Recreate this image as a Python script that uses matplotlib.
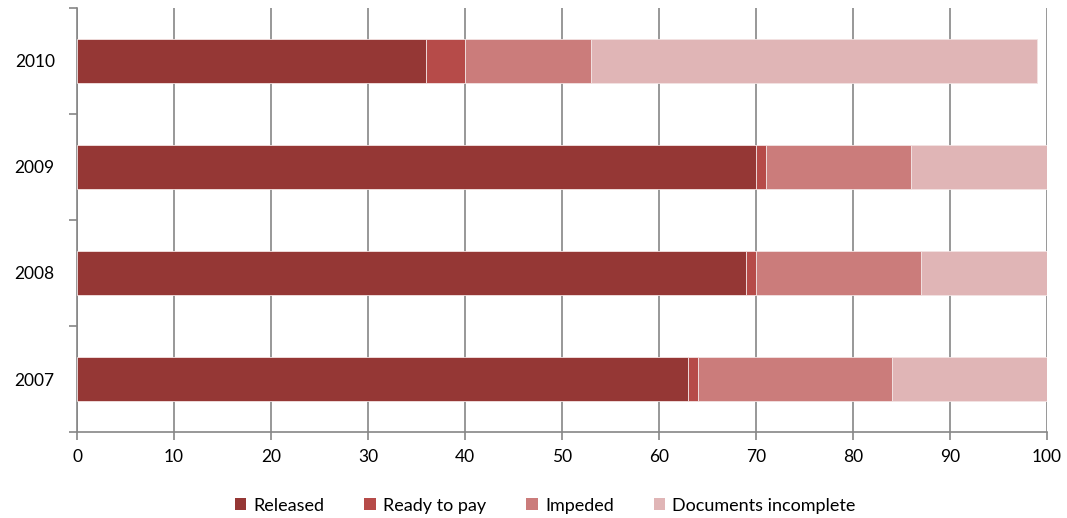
import numpy as np
import matplotlib.pyplot as plt
from matplotlib.patches import Patch

years = ['2007', '2008', '2009', '2010']
released = [63, 69, 70, 36]
ready_to_pay = [1, 1, 1, 4]
impeded = [20, 17, 15, 13]
docs_incomplete = [16, 13, 14, 46]

series = [released, ready_to_pay, impeded, docs_incomplete]
labels = ['Released', 'Ready to pay', 'Impeded', 'Documents incomplete']
colors = ['#953735', '#B64B49', '#CB7C7B', '#E0B5B6']

plt.rcParams['font.family'] = ['Lato', 'DejaVu Sans']

fig = plt.figure(figsize=(10.67, 5.18), dpi=100)
ax = fig.add_axes([0.0722, 0.166, 0.9091, 0.8186])

y = np.arange(len(years))
left = np.zeros(len(years))
for vals, lab, col in zip(series, labels, colors):
    ax.barh(y, vals, left=left, height=0.42, color=col, label=lab,
            edgecolor='#F3E3E3', linewidth=0.6, zorder=3)
    left += np.array(vals)

ax.set_xlim(0, 100)
ax.set_ylim(-0.5, 3.5)
ax.set_xticks(range(0, 101, 10))
ax.set_yticks(y)
ax.set_yticklabels(years)
ax.set_yticks(np.arange(-0.5, 3.6, 1), minor=True)
ax.tick_params(axis='y', which='major', length=0, pad=16, labelsize=12.5)
ax.tick_params(axis='y', which='minor', length=6, width=1.2, color='#868686')
ax.tick_params(axis='x', length=6, width=1.2, color='#868686', labelsize=12.5, pad=6)

ax.grid(axis='x', color='#868686', linewidth=1.2, zorder=0)
for s in ['top', 'right']:
    ax.spines[s].set_visible(False)
for s in ['left', 'bottom']:
    ax.spines[s].set_color('#868686')
    ax.spines[s].set_linewidth(1.2)

handles = [Patch(facecolor=c, edgecolor='none') for c in colors]
fig.legend(handles, labels, loc='center', bbox_to_anchor=(0.511, 0.024), ncol=4,
           frameon=False, fontsize=13, handlelength=0.65, handleheight=0.65,
           handletextpad=0.4, columnspacing=2.2)

fig.savefig('out.png', dpi=100)
